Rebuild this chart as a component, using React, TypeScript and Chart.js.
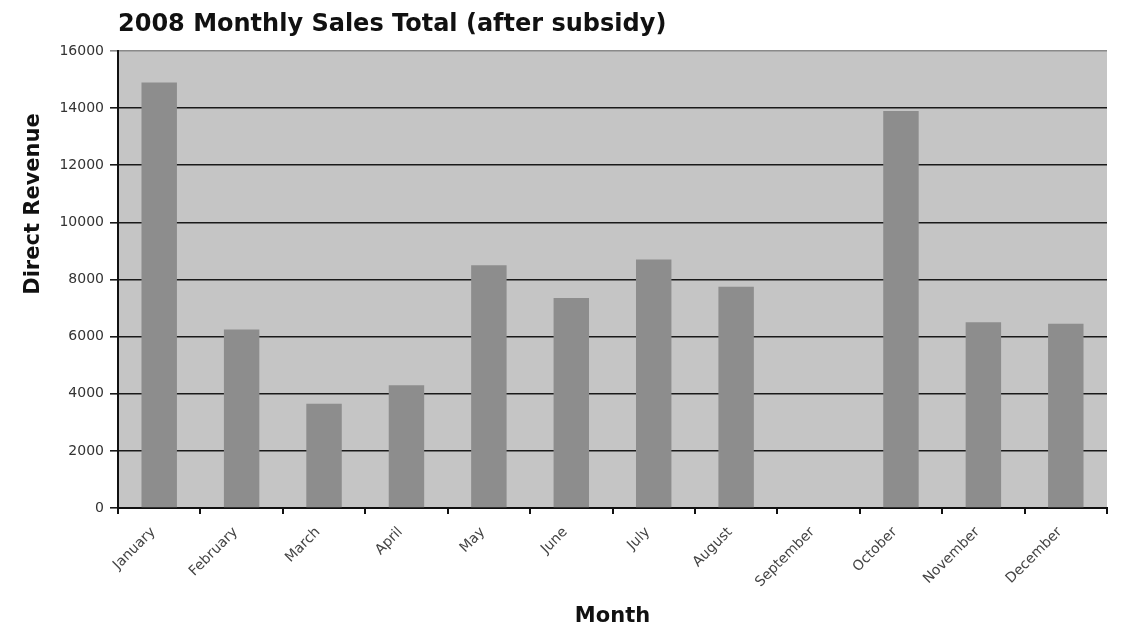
import React, { useEffect, useRef } from "react";
import { Chart, registerables } from "chart.js";

Chart.register(...registerables);

const months = [
  "January", "February", "March", "April", "May", "June",
  "July", "August", "September", "October", "November", "December",
];
const revenue = [14900, 6250, 3650, 4300, 8500, 7350, 8700, 7750, 0, 13900, 6500, 6450];
const yTicks = [0, 2000, 4000, 6000, 8000, 10000, 12000, 14000, 16000];
const chartTitle = "2008 Monthly Sales Total (after subsidy)";
const yTitle = "Direct Revenue";
const xTitle = "Month";

const decorPlugin = {
  id: "decor",
  beforeDraw(chart: any) {
    const { ctx, chartArea } = chart;
    ctx.save();
    ctx.fillStyle = "#c5c5c5";
    ctx.fillRect(chartArea.left, chartArea.top, chartArea.right - chartArea.left, chartArea.bottom - chartArea.top);
    ctx.restore();
  },
  afterDraw(chart: any) {
    const { ctx, chartArea } = chart;
    ctx.save();
    ctx.fillStyle = "#111";
    ctx.textBaseline = "middle";
    ctx.textAlign = "left";
    ctx.font = "bold 24px 'DejaVu Sans', sans-serif";
    ctx.fillText(chartTitle, chartArea.left, 25);
    ctx.textAlign = "center";
    ctx.font = "bold 21px 'DejaVu Sans', sans-serif";
    ctx.fillText(xTitle, (chartArea.left + chartArea.right) / 2, 617);
    ctx.translate(34, 204);
    ctx.rotate(-Math.PI / 2);
    ctx.fillText(yTitle, 0, 0);
    ctx.restore();
  },
};

export default function App() {
  const ref = useRef<HTMLCanvasElement>(null);
  useEffect(() => {
    if (!ref.current) return;
    const chart = new Chart(ref.current, {
      type: "bar",
      data: {
        labels: months,
        datasets: [
          {
            data: revenue,
            backgroundColor: "#8d8d8d",
            borderWidth: 0,
            categoryPercentage: 1,
            barPercentage: 0.43,
          },
        ],
      },
      options: {
        animation: false,
        responsive: true,
        maintainAspectRatio: false,
        layout: { padding: { top: 51, right: 18, left: 0, bottom: 0 } },
        plugins: { legend: { display: false }, tooltip: { enabled: false }, title: { display: false } },
        scales: {
          x: {
            offset: true,
            grid: {
              display: true,
              offset: true,
              drawOnChartArea: false,
              drawTicks: true,
              tickLength: 6,
              color: "#111",
              lineWidth: 2,
            },
            border: { display: true, color: "#111", width: 2 },
            ticks: {
              minRotation: 45,
              maxRotation: 45,
              autoSkip: false,
              color: "#444",
              padding: 10,
              labelOffset: -6,
              font: { family: "'DejaVu Sans', sans-serif", size: 14 },
            },
            afterFit(scale: any) {
              scale.height = 122;
            },
          },
          y: {
            min: 0,
            max: 16000,
            afterBuildTicks(scale: any) {
              scale.ticks = yTicks.map((v) => ({ value: v }));
            },
            grid: {
              color: (c: any) => (c.tick && c.tick.value === 16000 ? "#8a8a8a" : "#1a1a1a"),
              lineWidth: 1.6,
              drawTicks: true,
              tickLength: 8,
            },
            border: { display: true, color: "#111", width: 2 },
            ticks: {
              color: "#333",
              padding: 6,
              font: { family: "'DejaVu Sans', sans-serif", size: 14 },
              callback: (v: any) => String(v),
            },
            afterFit(scale: any) {
              scale.width = 118;
            },
          },
        },
      },
      plugins: [decorPlugin],
    });
    return () => chart.destroy();
  }, []);
  return (
    <div style={{ position: "absolute", left: 0, top: 0, width: 1125, height: 630, background: "#fff" }}>
      <canvas ref={ref} />
    </div>
  );
}
